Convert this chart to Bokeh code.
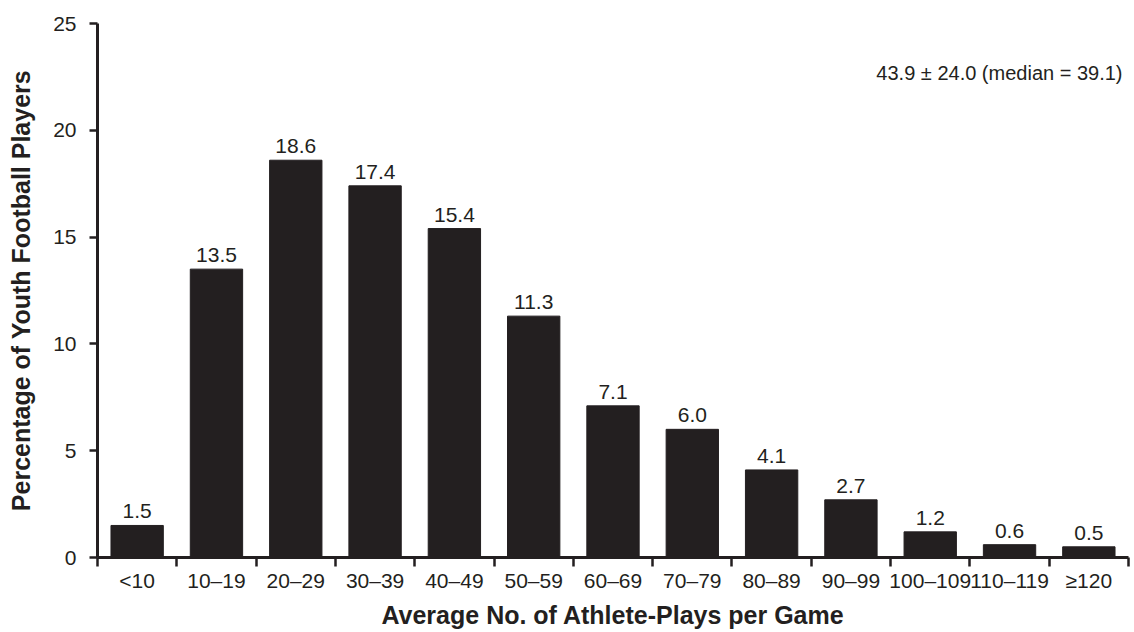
import numpy as np
from bokeh.plotting import figure
from bokeh.models import ColumnDataSource, FixedTicker, Range1d, Label
from bokeh.embed import file_html
from bokeh.resources import INLINE
from bokeh.core.properties import value

categories = ["<10", "10–19", "20–29", "30–39", "40–49", "50–59", "60–69",
              "70–79", "80–89", "90–99", "100–109", "110–119", "≥120"]
percentages = [1.5, 13.5, 18.6, 17.4, 15.4, 11.3, 7.1, 6.0, 4.1, 2.7, 1.2, 0.6, 0.5]
y_ticks = [0, 5, 10, 15, 20, 25]
annotation = "43.9 ± 24.0 (median = 39.1)"

FONT = "Liberation Sans"
INK = "#231f20"

centers = [i + 0.5 for i in range(len(categories))]
src = ColumnDataSource(dict(x=centers, top=percentages,
                            lab=[f"{v:.1f}" for v in percentages]))

p = figure(width=1134, height=632, output_backend="svg", toolbar_location=None,
           x_range=Range1d(0, len(categories)), y_range=Range1d(0, 25),
           min_border_left=97, min_border_right=6, min_border_top=23,
           min_border_bottom=75)
p.outline_line_color = None
p.grid.visible = False
p.background_fill_color = "white"
p.border_fill_color = "white"

p.vbar(x="x", top="top", width=0.66, bottom=0, source=src,
       fill_color=INK, line_color=INK)
p.text(x="x", y="top", text="lab", source=src, text_align="center",
       text_baseline="bottom", y_offset=-7, text_font=value(FONT),
       text_font_size="21px", text_color=INK)

xa = p.xaxis[0]
xa.ticker = FixedTicker(ticks=centers, minor_ticks=list(range(len(categories) + 1)))
xa.major_label_overrides = {c: lab for c, lab in zip(centers, categories)}
xa.major_tick_out = 0
xa.major_tick_in = 0
xa.minor_tick_out = 9
xa.minor_tick_in = 0
xa.minor_tick_line_width = 2.5
xa.minor_tick_line_color = INK
xa.major_label_standoff = 2
xa.axis_line_width = 3
xa.axis_line_color = INK
xa.major_label_text_font = FONT
xa.major_label_text_font_size = "21px"
xa.major_label_text_color = INK
xa.axis_label = "Average No. of Athlete-Plays per Game"
xa.axis_label_text_font = FONT
xa.axis_label_text_font_style = "bold"
xa.axis_label_text_font_size = "25px"
xa.axis_label_text_color = INK
xa.axis_label_standoff = 6

ya = p.yaxis[0]
ya.ticker = FixedTicker(ticks=y_ticks, minor_ticks=[])
ya.major_tick_out = 8
ya.major_tick_in = 0
ya.major_tick_line_width = 2.5
ya.major_tick_line_color = INK
ya.minor_tick_out = 0
ya.minor_tick_in = 0
ya.axis_line_width = 3
ya.axis_line_color = INK
ya.major_label_standoff = 13
ya.major_label_text_font = FONT
ya.major_label_text_font_size = "21px"
ya.major_label_text_color = INK
ya.axis_label = "Percentage of Youth Football Players"
ya.axis_label_text_font = FONT
ya.axis_label_text_font_style = "bold"
ya.axis_label_text_font_size = "25px"
ya.axis_label_text_color = INK
ya.axis_label_standoff = 15

p.add_layout(Label(x=len(categories), y=22.7, text=annotation, text_align="right",
                   text_baseline="middle", x_offset=-6, text_font=FONT,
                   text_font_size="20px", text_color=INK))

open("out.html", "w").write(file_html(p, INLINE))
